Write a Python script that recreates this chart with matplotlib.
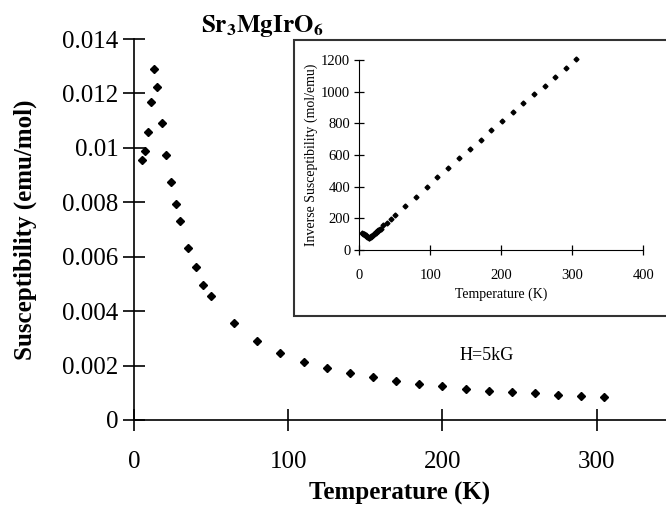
import matplotlib
matplotlib.use('Agg')
import matplotlib.pyplot as plt
from matplotlib.patches import Rectangle

plt.rcParams['font.family'] = ['Liberation Serif', 'DejaVu Serif']
plt.rcParams['mathtext.fontset'] = 'stix'

#%% data
# main panel: susceptibility vs temperature
temp = [5, 7, 9, 11, 13, 15, 18, 21, 24, 27, 30, 35, 40, 45, 50, 65, 80, 95,
        110, 125, 140, 155, 170, 185, 200, 215, 230, 245, 260, 275, 290, 305]
chi = [0.00956, 0.00989, 0.01058, 0.01169, 0.01289, 0.01222, 0.01092, 0.00975,
       0.00876, 0.00794, 0.00730, 0.00631, 0.00564, 0.00496, 0.00456, 0.00356,
       0.00290, 0.00245, 0.00214, 0.00191, 0.00174, 0.00157, 0.00142, 0.00132,
       0.00125, 0.00115, 0.00108, 0.00102, 0.00098, 0.00093, 0.00088, 0.00083]

# inset: inverse susceptibility vs temperature
temp_inv = [4, 5, 6, 7, 8, 9, 10, 11, 12, 13, 14, 15, 16, 17, 18, 19, 20, 21,
            22, 23, 24, 25, 26, 27, 28, 29, 30, 34, 39, 44, 50, 65, 80, 95,
            110, 125, 140, 156, 171, 186, 201, 216, 231, 246, 261, 276, 291, 305]
inv_chi = [106, 104, 102, 99, 96, 92, 88, 84, 80, 77, 78, 81, 84, 88, 91, 94,
           98, 102, 105, 109, 113, 117, 120, 124, 127, 131, 135, 158, 172, 194,
           219, 280, 337, 400, 459, 520, 581, 640, 697, 757, 815, 872, 927, 983,
           1038, 1093, 1150, 1204]

main_yticks = [0, 0.002, 0.004, 0.006, 0.008, 0.01, 0.012, 0.014]
main_ylabels = ['0', '0.002', '0.004', '0.006', '0.008', '0.01', '0.012', '0.014']

#%% figure
W, H = 666, 505
fig = plt.figure(figsize=(W / 100, H / 100), dpi=100)

ax = fig.add_axes([134 / W, 1 - 420 / H, 532 / W, 381 / H])
ax.plot(temp, chi, 'D', color='black', ms=4, mec='black')
ax.set_xlim(0, 345)
ax.set_ylim(0, 0.014)
ax.set_xticks([0, 100, 200, 300])
ax.set_yticks(main_yticks)
ax.set_yticklabels(main_ylabels)
for s in ['top', 'right']:
    ax.spines[s].set_visible(False)
for s in ['left', 'bottom']:
    ax.spines[s].set_linewidth(1.2)
ax.tick_params(axis='both', direction='inout', length=16, width=1.2,
               labelsize=18)
ax.tick_params(axis='y', pad=3)
ax.tick_params(axis='x', pad=14)
ax.set_xlabel('Temperature (K)', fontsize=18, fontweight='bold', labelpad=7)
ax.set_ylabel('Susceptibility (emu/mol)', fontsize=18, fontweight='bold',
              labelpad=18)
ax.text(211, 0.0022, 'H=5kG', fontsize=13)

fig.text(262 / W, 1 - 26 / H, r'$\mathbf{Sr_3MgIrO_6}$', fontsize=18,
         ha='center', va='center')

# inset frame
frame = Rectangle((294 / W, 1 - 316 / H), 0.6, 276 / H, transform=fig.transFigure,
                  fill=True, facecolor='white', edgecolor='#333333', lw=1.5,
                  clip_on=False, zorder=3)
fig.patches.append(frame)

ins = fig.add_axes([359.3 / W, 1 - 250 / H, 284 / W, 190 / H], zorder=4)
ins.patch.set_alpha(0)
ins.plot(temp_inv, inv_chi, 'D', color='black', ms=2.5, mec='black',
         clip_on=False)
ins.set_xlim(0, 400)
ins.set_ylim(0, 1200)
ins.set_xticks([0, 100, 200, 300, 400])
ins.set_yticks([0, 200, 400, 600, 800, 1000, 1200])
for s in ['top', 'right']:
    ins.spines[s].set_visible(False)
ins.tick_params(axis='both', direction='inout', length=7, width=0.9,
                labelsize=10.5)
ins.tick_params(axis='x', pad=10)
ins.tick_params(axis='y', pad=3)
ins.set_xlabel('Temperature (K)', fontsize=10, labelpad=4)
ins.set_ylabel('Inverse Susceptibility (mol/emu)', fontsize=10, labelpad=2)

fig.savefig('out.png', dpi=100)
